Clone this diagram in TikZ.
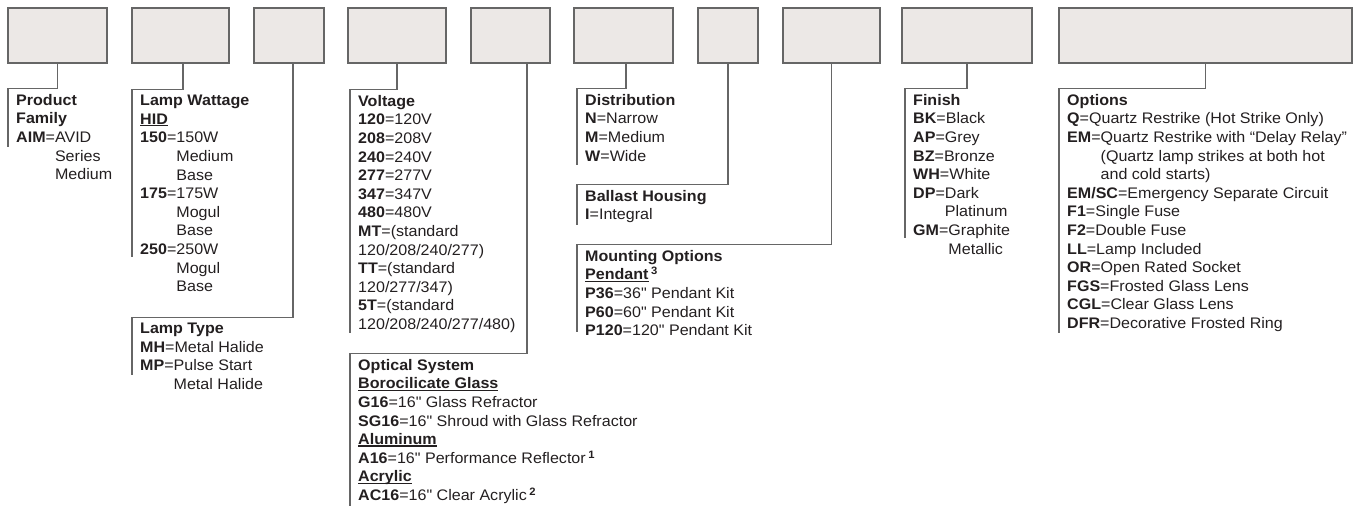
\documentclass[tikz,border=0pt]{standalone}
\usepackage{fontspec}
\setmainfont{Liberation Sans}[Ligatures=TeXOff,FakeStretch=1.05]
\definecolor{ink}{HTML}{231F20}
\definecolor{rulegray}{HTML}{666666}
\definecolor{slotfill}{HTML}{ECE8E6}
\newcommand{\cd}[1]{\textbf{#1}=}
\newcommand{\hang}[1]{\phantom{\textbf{#1}=}}
\newcommand{\subhead}[1]{\setbox0=\hbox{\textbf{#1}}\rlap{\rule[-2pt]{\wd0}{1.2pt}}\box0}
\newcommand{\fn}[1]{\,\textsuperscript{\textbf{#1}}}
\tikzset{
    every node/.style={align=left,},
    slot/.style={draw=rulegray,fill=slotfill,line width=1.2pt,minimum height=55pt,inner sep=0pt,},
    legend/.style={anchor=north west,inner sep=0pt,text=ink,font=\fontsize{15.3}{18.6}\selectfont,execute at begin node=\strut,},
    lead/.style={draw=rulegray,line width=1.2pt,},
}

\begin{document}
\begin{tikzpicture}[x=1pt,y=-1pt]
                \useasboundingbox (0,0) rectangle (1359,506);

                \node[slot,minimum width=99pt] (family) at (57.5,35.5) {};
                \node[slot,minimum width=97pt] (wattage) at (180.5,35.5) {};
                \node[slot,minimum width=70pt] (lamptype) at (289,35.5) {};
                \node[slot,minimum width=98pt] (voltage) at (397,35.5) {};
                \node[slot,minimum width=79pt] (optics) at (510.5,35.5) {};
                \node[slot,minimum width=99pt] (distrib) at (623.5,35.5) {};
                \node[slot,minimum width=60pt] (ballast) at (728,35.5) {};
                \node[slot,minimum width=97pt] (mounting) at (831.5,35.5) {};
                \node[slot,minimum width=130pt] (finish) at (967,35.5) {};
                \node[slot,minimum width=293pt] (options) at (1205.5,35.5) {};

                \coordinate (familyend) at (8,147);
                \coordinate (wattageend) at (132,257);
                \coordinate (lamptypeend) at (132,375);
                \coordinate (voltageend) at (350,333);
                \coordinate (opticsend) at (350,506);
                \coordinate (distribend) at (577,165);
                \coordinate (ballastend) at (577,225);
                \coordinate (mountingend) at (577,332);
                \coordinate (finishend) at (905,238);
                \coordinate (optionsend) at (1059,333);

                \draw[lead] (family.south) -- ++(0,25) -| (familyend);
                \draw[lead] ([xshift=2.5pt]wattage.south) -- ++(0,26) -| (wattageend);
                \draw[lead] ([xshift=4pt]lamptype.south) -- ++(0,254) -| (lamptypeend);
                \draw[lead] (voltage.south) -- ++(0,26) -| (voltageend);
                \draw[lead] ([xshift=16.5pt]optics.south) -- ++(0,290) -| (opticsend);
                \draw[lead] ([xshift=2.5pt]distrib.south) -- ++(0,25) -| (distribend);
                \draw[lead] (ballast.south) -- ++(0,121) -| (ballastend);
                \draw[lead] (mounting.south) -- ++(0,181) -| (mountingend);
                \draw[lead] (finish.south) -- ++(0,25) -| (finishend);
                \draw[lead] (options.south) -- ++(0,25) -| (optionsend);

                \node[legend] (familytext) at (16,94) {\textbf{Product}\\\textbf{Family}\\\cd{AIM}AVID\\\hang{AIM}Series\\\hang{AIM}Medium};
                \node[legend] (wattagetext) at (140,95) {\textbf{Lamp Wattage}\\\subhead{HID}\\\cd{150}150W\\\hang{150}Medium\\\hang{150}Base\\\cd{175}175W\\\hang{175}Mogul\\\hang{175}Base\\\cd{250}250W\\\hang{250}Mogul\\\hang{250}Base};
                \node[legend] (lamptypetext) at (140,323) {\textbf{Lamp Type}\\\cd{MH}Metal Halide\\\cd{MP}Pulse Start\\\hang{MP}Metal Halide};
                \node[legend] (voltagetext) at (358,95) {\textbf{Voltage}\\\cd{120}120V\\\cd{208}208V\\\cd{240}240V\\\cd{277}277V\\\cd{347}347V\\\cd{480}480V\\\cd{MT}(standard\\120/208/240/277)\\\cd{TT}(standard\\120/277/347)\\\cd{5T}(standard\\120/208/240/277/480)};
                \node[legend] (opticstext) at (358,359) {\textbf{Optical System}\\\subhead{Borocilicate Glass}\\\cd{G16}16" Glass Refractor\\\cd{SG16}16" Shroud with Glass Refractor\\\subhead{Aluminum}\\\cd{A16}16" Performance Reflector\fn{1}\\\subhead{Acrylic}\\\cd{AC16}16" Clear Acrylic\fn{2}};
                \node[legend] (distribtext) at (585,94) {\textbf{Distribution}\\\cd{N}Narrow\\\cd{M}Medium\\\cd{W}Wide};
                \node[legend] (ballasttext) at (585,190) {\textbf{Ballast Housing}\\\cd{I}Integral};
                \node[legend] (mountingtext) at (585,250) {\textbf{Mounting Options}\\\subhead{Pendant}\fn{3}\\\cd{P36}36" Pendant Kit\\\cd{P60}60" Pendant Kit\\\cd{P120}120" Pendant Kit};
                \node[legend] (finishtext) at (913,94) {\textbf{Finish}\\\cd{BK}Black\\\cd{AP}Grey\\\cd{BZ}Bronze\\\cd{WH}White\\\cd{DP}Dark\\\hang{DP}Platinum\\\cd{GM}Graphite\\\hang{GM}Metallic};
                \node[legend] (optionstext) at (1067,94) {\textbf{Options}\\\cd{Q}Quartz Restrike (Hot Strike Only)\\\cd{EM}Quartz Restrike with “Delay Relay”\\\hang{EM}(Quartz lamp strikes at both hot\\\hang{EM}and cold starts)\\\cd{EM/SC}Emergency Separate Circuit\\\cd{F1}Single Fuse\\\cd{F2}Double Fuse\\\cd{LL}Lamp Included\\\cd{OR}Open Rated Socket\\\cd{FGS}Frosted Glass Lens\\\cd{CGL}Clear Glass Lens\\\cd{DFR}Decorative Frosted Ring};
            \end{tikzpicture}
\end{document}
